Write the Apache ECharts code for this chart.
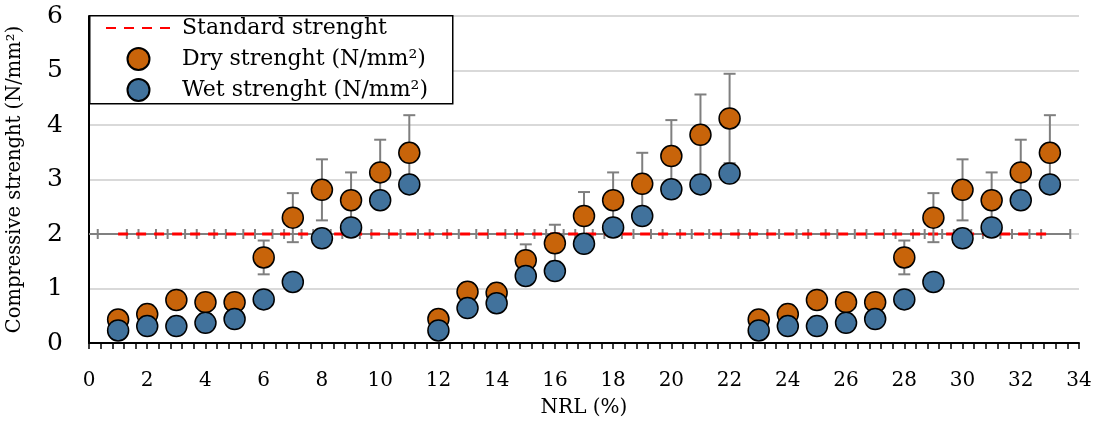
<!DOCTYPE html>
<html>
<head>
<meta charset="utf-8">
<script src="https://cdn.jsdelivr.net/npm/echarts@6/dist/echarts.min.js"></script>
<style>
  html, body { margin: 0; padding: 0; background: #fff; }
  #chart { width: 1107px; height: 421px; }
</style>
</head>
<body>
<div id="chart"></div>
<script>
// NRL (%) sample positions
const nrl = [1,2,3,4,5,6,7,8,9,10,11,12,13,14,15,16,17,18,19,20,21,22,23,24,25,26,27,28,29,30,31,32,33];

// Dry compressive strength (N/mm²) and its error amounts
const dryStrength = [0.43,0.53,0.79,0.75,0.75,1.57,2.30,2.81,2.62,3.13,3.49,
                     0.44,0.94,0.92,1.52,1.83,2.33,2.62,2.92,3.43,3.82,4.12,
                     0.43,0.53,0.79,0.75,0.75,1.57,2.30,2.81,2.62,3.13,3.49];
const dryError = [0.08,0.10,0.14,0.13,0.13,0.31,0.45,0.56,0.51,0.60,0.69,
                  0.08,0.16,0.16,0.29,0.34,0.44,0.51,0.57,0.66,0.74,0.82,
                  0.08,0.10,0.14,0.13,0.13,0.31,0.45,0.56,0.51,0.60,0.69];

// Wet compressive strength (N/mm²)
const wetStrength = [0.23,0.31,0.31,0.37,0.44,0.80,1.12,1.92,2.12,2.62,2.91,
                     0.23,0.64,0.73,1.23,1.32,1.82,2.12,2.33,2.82,2.91,3.11,
                     0.23,0.31,0.31,0.37,0.44,0.80,1.12,1.92,2.12,2.62,2.91];

// Standard strength reference level and its horizontal error amount
const standardStrength = 2;
const standardXError = 0.7;

const xTicks = { min: 0, max: 34, interval: 2 };
const yTicks = { min: 0, max: 6, interval: 1 };

const serif = 'DejaVu Serif';
const names = ['Standard strenght', 'Dry strenght (N/mm²)', 'Wet strenght (N/mm²)'];

const standardData = nrl.map(x => [x, standardStrength, standardXError]);
const dryData = nrl.map((x, i) => [x, dryStrength[i]]);
const dryErrData = nrl.map((x, i) => [x, dryStrength[i], dryError[i]]);
const wetData = nrl.map((x, i) => [x, wetStrength[i]]);

const chart = echarts.init(document.getElementById('chart'), null, { renderer: 'canvas' });

chart.setOption({
  animation: false,
  backgroundColor: '#fff',
  grid: { left: 89, right: 28, top: 16, bottom: 78, containLabel: false, outerBoundsMode: 'none' },
  xAxis: {
    type: 'value', min: xTicks.min, max: xTicks.max, interval: xTicks.interval,
    name: 'NRL (%)', nameLocation: 'middle', nameGap: 55,
    nameTextStyle: { fontFamily: serif, fontSize: 20, color: '#000' },
    axisLine: { show: true, onZero: false, lineStyle: { color: '#000', width: 2 } },
    axisTick: { show: true, inside: false, length: 6, lineStyle: { color: '#000', width: 1.5 } },
    minorTick: { show: true, splitNumber: 5, length: 6, lineStyle: { color: '#000', width: 1.5 } },
    splitLine: { show: false },
    axisLabel: { fontFamily: serif, fontSize: 20, color: '#000', margin: 28 }
  },
  yAxis: {
    type: 'value', min: yTicks.min, max: yTicks.max, interval: yTicks.interval,
    name: 'Compressive strenght (N/mm²)', nameLocation: 'middle', nameGap: 64,
    nameTextStyle: { fontFamily: serif, fontSize: 19.5, color: '#000' },
    axisLine: { show: true, lineStyle: { color: '#000', width: 2 } },
    axisTick: { show: false },
    splitLine: { show: true, lineStyle: { color: '#D9D9D9', width: 2 } },
    axisLabel: { fontFamily: serif, fontSize: 25, color: '#000', margin: 26 }
  },
  graphic: [{
    type: 'rect', z: 50, left: 89, top: 15,
    shape: { width: 363, height: 88 },
    style: { fill: '#fff', stroke: '#000', lineWidth: 1.5 }
  }],
  legend: {
    z: 60, left: 89, top: 15, orient: 'vertical',
    padding: [0, 10, 0, 16], itemGap: 5,
    itemWidth: 65, itemHeight: 22,
    data: [
      { name: names[0], itemStyle: { opacity: 0, color: 'rgba(0,0,0,0)', borderWidth: 0 } },
      names[1],
      names[2]
    ],
    textStyle: { fontFamily: serif, fontSize: 22, color: '#000', lineHeight: 26, padding: [0, 0, 0, 6] }
  },
  series: [
    {
      // horizontal error bars of the standard level
      type: 'custom', name: 'stdErr', z: 2, silent: true,
      data: standardData,
      renderItem: function (params, api) {
        const x = api.value(0), y = api.value(1), e = api.value(2);
        const a = api.coord([Math.max(x - e, xTicks.min), y]);
        const a0 = api.coord([x - e, y]);
        const b = api.coord([x + e, y]);
        const c = 5;
        const st = { stroke: '#808080', lineWidth: 2 };
        // the first bar's run reaches back to the axis
        const start = params.dataIndex === 0 ? api.coord([xTicks.min, y]) : a;
        return {
          type: 'group', children: [
            { type: 'line', shape: { x1: start[0], y1: a[1], x2: b[0], y2: b[1] }, style: st },
            { type: 'line', shape: { x1: a0[0], y1: a0[1] - c, x2: a0[0], y2: a0[1] + c }, style: st },
            { type: 'line', shape: { x1: b[0], y1: b[1] - c, x2: b[0], y2: b[1] + c }, style: st }
          ]
        };
      }
    },
    {
      type: 'line', name: names[0], z: 3,
      data: nrl.map(x => [x, standardStrength]),
      symbol: 'none', showSymbol: false,
      lineStyle: { color: '#FF0000', width: 3, type: [10, 8] },
      itemStyle: { color: '#FF0000' }
    },
    {
      // vertical error bars of dry strength
      type: 'custom', name: 'dryErr', z: 4, silent: true,
      data: dryErrData,
      renderItem: function (params, api) {
        const x = api.value(0), y = api.value(1), e = api.value(2);
        const top = api.coord([x, y + e]);
        const bot = api.coord([x, y - e]);
        const c = 6;
        const st = { stroke: '#7F7F7F', lineWidth: 2 };
        return {
          type: 'group', children: [
            { type: 'line', shape: { x1: top[0], y1: top[1], x2: bot[0], y2: bot[1] }, style: st },
            { type: 'line', shape: { x1: top[0] - c, y1: top[1], x2: top[0] + c, y2: top[1] }, style: st },
            { type: 'line', shape: { x1: bot[0] - c, y1: bot[1], x2: bot[0] + c, y2: bot[1] }, style: st }
          ]
        };
      }
    },
    {
      type: 'scatter', name: names[1], z: 5,
      data: dryData, symbol: 'circle', symbolSize: 21,
      itemStyle: { color: '#C8640A', borderColor: '#000', borderWidth: 1.5, opacity: 1 }
    },
    {
      type: 'scatter', name: names[2], z: 6,
      data: wetData, symbol: 'circle', symbolSize: 21,
      itemStyle: { color: '#41729C', borderColor: '#000', borderWidth: 1.5, opacity: 1 }
    }
  ]
});
</script>
</body>
</html>
